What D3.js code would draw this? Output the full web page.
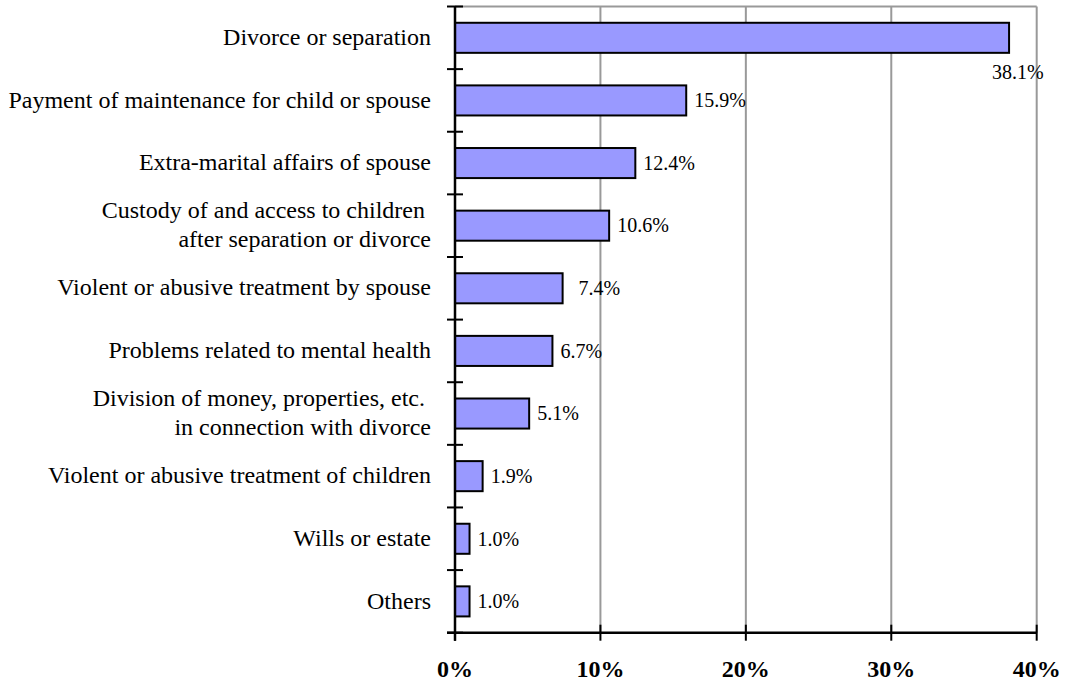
<!DOCTYPE html>
<html>
<head>
<meta charset="utf-8">
<script src="https://cdn.jsdelivr.net/npm/d3@7"></script>
<style>
  html, body { margin: 0; padding: 0; background: #fff; }
  svg { display: block; }
  text { font-family: "Liberation Serif", "Times New Roman", serif; fill: #000; }
</style>
</head>
<body>
<svg id="chart" width="1075" height="684"></svg>
<script>
const categories = [
  ["Divorce or separation"],
  ["Payment of maintenance for child or spouse"],
  ["Extra-marital affairs of spouse"],
  ["Custody of and access to children ", "after separation or divorce"],
  ["Violent or abusive treatment by spouse"],
  ["Problems related to mental health"],
  ["Division of money, properties, etc. ", "in connection with divorce"],
  ["Violent or abusive treatment of children"],
  ["Wills or estate"],
  ["Others"]
];
const values = [38.1, 15.9, 12.4, 10.6, 7.4, 6.7, 5.1, 1.9, 1.0, 1.0];
const xTicks = [0, 10, 20, 30, 40];
const xTickLabels = ["0%", "10%", "20%", "30%", "40%"];

const svg = d3.select("#chart");
const pLeft = 455, pRight = 1036.7, pTop = 6.5, pBottom = 632.7;

const x = d3.scaleLinear().domain([0, 40]).range([pLeft, pRight]);
const y = d3.scaleBand().domain(d3.range(categories.length)).range([pTop, pBottom]).paddingInner(0.52).paddingOuter(0.26);
const yOuter = d3.scaleLinear().domain([0, categories.length]).range([pTop, pBottom]);

// grid lines
svg.append("g").selectAll("line").data(xTicks.slice(1)).join("line")
  .attr("x1", d => x(d)).attr("x2", d => x(d))
  .attr("y1", pTop).attr("y2", pBottom)
  .attr("stroke", "#999").attr("stroke-width", 2);
// top border
svg.append("line").attr("x1", pLeft).attr("x2", pRight).attr("y1", pTop).attr("y2", pTop)
  .attr("stroke", "#999").attr("stroke-width", 2);

// bars
svg.append("g").selectAll("rect").data(values).join("rect")
  .attr("x", x(0))
  .attr("y", (d, i) => y(i))
  .attr("width", d => x(d) - x(0))
  .attr("height", y.bandwidth())
  .attr("fill", "#9999ff")
  .attr("stroke", "#000").attr("stroke-width", 2);

// value labels
svg.append("g").selectAll("text").data(values).join("text")
  .attr("x", (d, i) => i === 0 ? x(d) - 17 : x(d) + (d === 7.4 ? 16 : 8))
  .attr("y", (d, i) => i === 0 ? y(i) + y.bandwidth() + 19 : y(i) + y.bandwidth() / 2)
  .attr("dy", "0.34em")
  .attr("font-size", 20)
  .text(d => d.toFixed(1) + "%");

// y axis
svg.append("line").attr("x1", pLeft).attr("x2", pLeft).attr("y1", pTop).attr("y2", pBottom + 8)
  .attr("stroke", "#000").attr("stroke-width", 2.5);
svg.append("g").selectAll("line").data(d3.range(categories.length + 1)).join("line")
  .attr("x1", pLeft - 8).attr("x2", pLeft + 8)
  .attr("y1", d => yOuter(d)).attr("y2", d => yOuter(d))
  .attr("stroke", "#000").attr("stroke-width", 2);

// x axis
svg.append("line").attr("x1", pLeft - 8).attr("x2", pRight).attr("y1", pBottom).attr("y2", pBottom)
  .attr("stroke", "#000").attr("stroke-width", 2.5);
svg.append("g").selectAll("line").data(xTicks).join("line")
  .attr("x1", d => x(d)).attr("x2", d => x(d))
  .attr("y1", pBottom - 8).attr("y2", pBottom + 8)
  .attr("stroke", "#000").attr("stroke-width", 2);
svg.append("g").selectAll("text").data(xTicks).join("text")
  .attr("x", d => x(d)).attr("y", 669)
  .attr("dy", "0.34em")
  .attr("text-anchor", "middle")
  .attr("font-size", 24).attr("font-weight", "bold")
  .text((d, i) => xTickLabels[i]);

// category labels
const catG = svg.append("g").selectAll("text").data(categories).join("text")
  .attr("text-anchor", "end")
  .attr("font-size", 24)
  .attr("y", (d, i) => y(i) + y.bandwidth() / 2);
catG.each(function(lines, i) {
  const t = d3.select(this);
  const n = lines.length;
  lines.forEach((line, j) => {
    t.append("tspan")
      .attr("x", 431)
      .attr("y", y(i) + y.bandwidth() / 2 + (j - (n - 1) / 2) * 29)
      .attr("dy", "0.3em")
      .style("white-space", "pre")
      .text(line);
  });
});
</script>
</body>
</html>
